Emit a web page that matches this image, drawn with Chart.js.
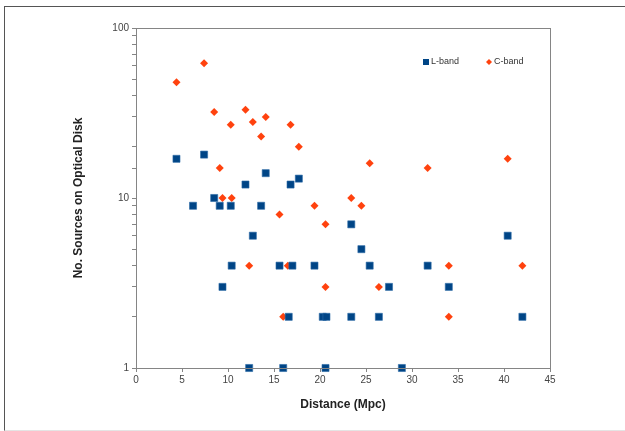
<!DOCTYPE html>
<html>
<head>
<meta charset="utf-8">
<script src="https://cdn.jsdelivr.net/npm/chart.js@4.4.1/dist/chart.umd.min.js"></script>
<style>
  html, body { margin: 0; padding: 0; background: #fff; }
  #wrap { position: relative; width: 625px; height: 431px; overflow: hidden; }
  #frame { position: absolute; left: 4px; top: 6px; width: 700px; height: 423px;
           border-left: 1px solid #555; border-top: 1px solid #555; border-bottom: 1px solid #e4e4e4;
           pointer-events: none; }
  canvas { position: absolute; left: 0; top: 0; }
</style>
</head>
<body>
<div id="wrap">
  <canvas id="chart" width="625" height="431"></canvas>
  <div id="frame"></div>
</div>
<script>
// distances (Mpc) and source counts
var lDist  = [4.4, 6.2, 7.4, 8.5, 9.1, 9.4, 10.3, 10.4, 11.9, 12.3, 12.7, 13.6, 14.1, 15.6, 16.0, 16.6, 16.8,
              17.0, 17.7, 19.4, 20.3, 20.6, 20.7, 23.4, 23.4, 24.5, 25.4, 26.4, 27.5, 28.9, 31.7, 34.0, 40.4, 42.0];
var lCount = [17, 9, 18, 10, 9, 3, 9, 4, 12, 1, 6, 9, 14, 4, 1, 2, 12,
              4, 13, 4, 2, 1, 2, 7, 2, 5, 4, 2, 3, 1, 4, 3, 6, 2];

var cDist  = [4.4, 7.4, 8.5, 9.1, 9.4, 10.3, 10.4, 11.9, 12.3, 12.7, 13.6, 14.1, 15.6, 16.0, 16.5,
              16.8, 17.7, 19.4, 20.6, 20.6, 23.4, 24.5, 25.4, 26.4, 31.7, 34.0, 34.0, 40.4, 42.0];
var cCount = [48, 62, 32, 15, 10, 27, 10, 33, 4, 28, 23, 30, 8, 2, 4,
              27, 20, 9, 7, 3, 10, 9, 16, 3, 15, 4, 2, 17, 4];

var xTicks = [0, 5, 10, 15, 20, 25, 30, 35, 40, 45];
var yLabels = [1, 10, 100];

var blue = '#004586';
var orange = '#ff420e';
var axisGray = '#858585';

function toPoints(xs, ys) {
    return xs.map(function (x, i) { return { x: x, y: ys[i] }; });
}

// box round the plot and the legend inside it
var boxAndLegend = {
    id: 'boxAndLegend',
    afterDraw: function (chart) {
        var ctx = chart.ctx;
        var a = chart.chartArea;
        ctx.save();
        ctx.strokeStyle = axisGray;
        ctx.lineWidth = 1;
        ctx.strokeRect(Math.round(a.left) + 0.5, Math.round(a.top) + 0.5,
                       Math.round(a.right - a.left), Math.round(a.bottom - a.top));

        ctx.font = '9px "Liberation Sans", Arial, sans-serif';
        ctx.textBaseline = 'middle';
        ctx.fillStyle = '#333';
        var ly = a.top + 34;
        var lx = a.right - 124;
        // L-band
        ctx.fillStyle = blue;
        ctx.fillRect(lx - 3, ly - 3, 6, 6);
        ctx.fillStyle = '#333';
        ctx.fillText(chart.data.datasets[0].label, lx + 5, ly);
        // C-band
        var cx = lx + 63;
        ctx.fillStyle = orange;
        ctx.beginPath();
        ctx.moveTo(cx - 3, ly);
        ctx.lineTo(cx, ly - 3);
        ctx.lineTo(cx + 3, ly);
        ctx.lineTo(cx, ly + 3);
        ctx.closePath();
        ctx.fill();
        ctx.fillStyle = '#333';
        ctx.fillText(chart.data.datasets[1].label, cx + 5, ly);
        ctx.restore();
    }
};

var tickFont = { family: '"Liberation Sans", Arial, sans-serif', size: 10 };
var titleFont = { family: '"Liberation Sans", Arial, sans-serif', size: 12, weight: 'bold' };

var myChart = new Chart(document.getElementById('chart'), {
    type: 'scatter',
    data: {
        datasets: [
            {
                label: 'L-band',
                data: toPoints(lDist, lCount),
                pointStyle: 'rect',
                pointRadius: 5,
                pointHoverRadius: 5,
                backgroundColor: blue,
                borderColor: '#2a6aa6',
                borderWidth: 0.6,
                clip: false
            },
            {
                label: 'C-band',
                data: toPoints(cDist, cCount),
                pointStyle: 'rectRot',
                pointRadius: 4,
                pointHoverRadius: 4,
                backgroundColor: orange,
                borderColor: orange,
                borderWidth: 0,
                clip: false
            }
        ]
    },
    options: {
        responsive: false,
        animation: false,
        events: [],
        layout: { padding: { left: 67, top: 28, right: 75, bottom: 15 } },
        plugins: {
            legend: { display: false },
            tooltip: { enabled: false }
        },
        scales: {
            x: {
                type: 'linear',
                min: xTicks[0],
                max: xTicks[xTicks.length - 1],
                afterBuildTicks: function (s) {
                    s.ticks = xTicks.map(function (v) { return { value: v }; });
                },
                afterFit: function (s) { s.height = 48; },
                grid: { drawOnChartArea: false, drawTicks: true, tickLength: 4, color: axisGray },
                border: { color: axisGray },
                ticks: { font: tickFont, color: '#444', padding: 2, maxRotation: 0 },
                title: { display: true, text: 'Distance (Mpc)', font: titleFont, color: '#222',
                         padding: { top: 4, bottom: 4 } }
            },
            y: {
                type: 'logarithmic',
                min: yLabels[0],
                max: yLabels[yLabels.length - 1],
                afterFit: function (s) { s.width = 69; },
                grid: { drawOnChartArea: false, drawTicks: true, tickLength: 4, color: axisGray },
                border: { color: axisGray },
                ticks: {
                    autoSkip: false,
                    font: tickFont,
                    color: '#444',
                    padding: 3,
                    callback: function (v) {
                        return yLabels.indexOf(v) >= 0 ? String(v) : '';
                    }
                },
                title: { display: true, text: 'No. Sources on Optical Disk', font: titleFont, color: '#222',
                         padding: { top: 4, bottom: 4 } }
            }
        }
    },
    plugins: [boxAndLegend]
});
</script>
</body>
</html>
